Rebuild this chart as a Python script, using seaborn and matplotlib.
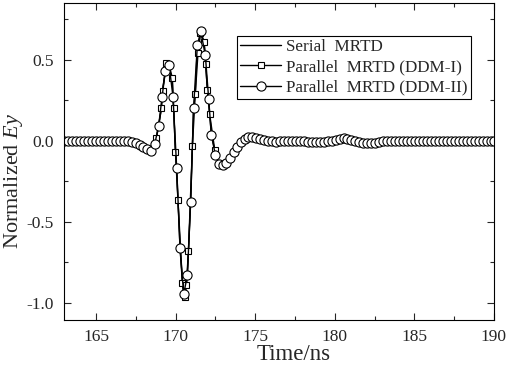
import numpy as np
import pandas as pd
import matplotlib
matplotlib.use("Agg")
import matplotlib.pyplot as plt
from matplotlib.ticker import MultipleLocator
import seaborn as sns

# ---- data ----
t_ddm2 = [163.0, 163.25, 163.5, 163.75, 164.0, 164.25, 164.5, 164.75, 165.0, 165.25,
          165.5, 165.75, 166.0, 166.25, 166.5, 166.75, 167.0, 167.25, 167.5, 167.73,
          167.96, 168.2, 168.47, 168.68, 168.93, 169.14, 169.35, 169.58, 169.83, 170.06,
          170.27, 170.5, 170.73, 170.94, 171.12, 171.36, 171.57, 171.86, 172.07, 172.24,
          172.49, 172.72, 172.95, 173.18, 173.41, 173.64, 173.87, 174.1, 174.33, 174.56,
          174.8, 175.05, 175.3, 175.55, 175.8, 176.05, 176.3, 176.55, 176.8, 177.05,
          177.3, 177.55, 177.8, 178.05, 178.3, 178.55, 178.8, 179.05, 179.3, 179.55,
          179.8, 180.05, 180.3, 180.55, 180.8, 181.05, 181.3, 181.55, 181.8, 182.05,
          182.3, 182.55, 182.8, 183.05, 183.3, 183.55, 183.8, 184.05, 184.3, 184.55,
          184.8, 185.05, 185.3, 185.55, 185.8, 186.05, 186.3, 186.55, 186.8, 187.05,
          187.3, 187.55, 187.8, 188.05, 188.3, 188.55, 188.8, 189.05, 189.3, 189.55,
          189.8, 190.0]
ey_ddm2 = [0.0, 0.0, 0.0, 0.0, 0.0, 0.0, 0.0, 0.0, 0.0, 0.0,
           0.0, 0.0, 0.0, 0.0, 0.0, 0.0, -0.002, -0.006, -0.014, -0.025,
           -0.038, -0.052, -0.062, -0.02, 0.094, 0.27, 0.43, 0.47, 0.27, -0.165,
           -0.66, -0.946, -0.83, -0.375, 0.2, 0.59, 0.675, 0.53, 0.26, 0.037,
           -0.086, -0.14, -0.15, -0.135, -0.105, -0.07, -0.035, -0.008, 0.012, 0.022,
           0.025, 0.018, 0.01, 0.004, 0.0, -0.004, -0.005, -0.002, 0.0, 0.0,
           0.0, 0.0, -0.002, -0.004, -0.006, -0.008, -0.01, -0.01, -0.008, -0.004,
           0.002, 0.008, 0.013, 0.015, 0.012, 0.006, -0.002, -0.008, -0.012, -0.015,
           -0.015, -0.012, -0.007, -0.003, 0.0, 0.0, 0.0, 0.0, 0.0, 0.0,
           0.0, 0.0, 0.0, 0.0, 0.0, 0.0, 0.0, 0.0, 0.0, 0.0,
           0.0, 0.0, 0.0, 0.0, 0.0, 0.0, 0.0, 0.0, 0.0, 0.0,
           0.0, 0.0]

t_ddm1 = [168.3, 168.79, 169.1, 169.17, 169.42, 169.78, 169.87, 169.98, 170.14, 170.42,
          170.56, 170.67, 170.8, 171.05, 171.23, 171.4, 171.55, 171.78, 171.88, 171.99,
          172.13, 172.45]
ey_ddm1 = [-0.055, 0.02, 0.2, 0.31, 0.48, 0.39, 0.2, -0.066, -0.365, -0.875,
           -0.96, -0.89, -0.677, -0.03, 0.29, 0.54, 0.665, 0.61, 0.475, 0.315,
           0.167, -0.055]

labels = ["Serial  MRTD", "Parallel  MRTD (DDM-I)", "Parallel  MRTD (DDM-II)"]
x_ticks = [165, 170, 175, 180, 185, 190]
y_ticks = [-1.0, -0.5, 0.0, 0.5]

# serial solution: the common curve through all samples
serial = pd.concat([
    pd.DataFrame({"t": t_ddm2, "ey": ey_ddm2}),
    pd.DataFrame({"t": t_ddm1, "ey": ey_ddm1}),
]).sort_values("t").drop_duplicates("t")

sns.set_style("ticks")
plt.rcParams["font.family"] = ["Liberation Serif", "DejaVu Serif"]
plt.rcParams["mathtext.fontset"] = "custom"
plt.rcParams["mathtext.rm"] = "Liberation Serif"
plt.rcParams["mathtext.it"] = "Liberation Serif:italic"
plt.rcParams["axes.unicode_minus"] = False

fig = plt.figure(figsize=(5.07, 3.70), dpi=100)
ax = fig.add_axes([0.127, 0.135, 0.847, 0.857])

sns.lineplot(data=serial, x="t", y="ey", ax=ax, color="black", lw=1.0,
             label=labels[0], sort=True, estimator=None)
sns.lineplot(x=t_ddm1, y=ey_ddm1, ax=ax, color="black", lw=1.0, marker="s",
             markersize=5, markerfacecolor="white", markeredgecolor="black",
             markeredgewidth=0.8, label=labels[1], estimator=None)
sns.lineplot(x=t_ddm2, y=ey_ddm2, ax=ax, color="black", lw=1.0, marker="o",
             markersize=6.6, markerfacecolor="white", markeredgecolor="black",
             markeredgewidth=0.8, label=labels[2], estimator=None)

ax.set_xlim(163, 190)
ax.set_ylim(-1.105, 0.85)
ax.set_xticks(x_ticks)
ax.set_yticks(y_ticks)
ax.set_yticklabels([f"{v:.1f}" for v in y_ticks])
ax.xaxis.set_minor_locator(MultipleLocator(2.5))
ax.yaxis.set_minor_locator(MultipleLocator(0.25))
ax.tick_params(which="both", direction="in", top=True, right=True, width=0.8,
               labelsize=12.5)
ax.tick_params(axis="x", pad=6.5)
ax.tick_params(axis="y", pad=7.5)
ax.tick_params(which="major", length=5)
ax.tick_params(which="minor", length=3)
for s in ax.spines.values():
    s.set_linewidth(0.8)
    s.set_color("black")

ax.set_xlabel("Time/ns", fontsize=16.5)
ax.set_ylabel(r"Normalized $Ey$", fontsize=16)
ax.xaxis.set_label_coords(0.534, -0.075)
ax.yaxis.set_label_coords(-0.092, 0.438)

leg = ax.legend(loc="upper right", bbox_to_anchor=(0.946, 0.897), fontsize=12.3,
                frameon=True, fancybox=False, edgecolor="black", framealpha=1,
                handlelength=2.4, handletextpad=0.25, borderpad=0.2,
                labelspacing=0.25, borderaxespad=0)
leg.get_frame().set_linewidth(0.8)

fig.savefig("out.png", dpi=100)
